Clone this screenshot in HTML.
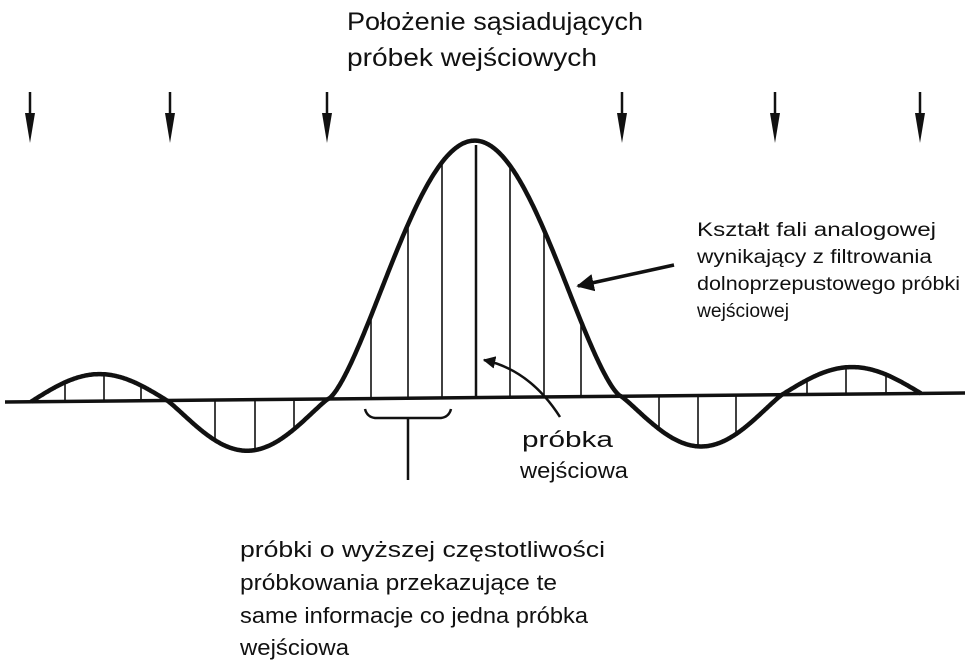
<!DOCTYPE html>
<html><head><meta charset="utf-8"><style>
html,body{margin:0;padding:0;background:#fff;width:970px;height:667px;overflow:hidden}
svg{display:block}
text{font-family:"Liberation Sans","DejaVu Sans",sans-serif;fill:#111}
</style></head><body>
<svg id="s" width="970" height="667" viewBox="0 0 970 667" xmlns="http://www.w3.org/2000/svg">
<defs>
<marker id="ah" viewBox="0 0 10 10" refX="9" refY="5" markerWidth="5" markerHeight="5" orient="auto"><path d="M0,0 L10,5 L0,10 z" fill="#111"/></marker>
</defs>
<text x="347" y="30" font-size="25" textLength="296" lengthAdjust="spacingAndGlyphs">Położenie sąsiadujących</text>
<text x="347" y="66" font-size="25" textLength="250" lengthAdjust="spacingAndGlyphs">próbek wejściowych</text>
<g id="arrows" stroke="#111" stroke-width="2.5" fill="#111"></g>
<line x1="5" y1="402" x2="965" y2="393" stroke="#111" stroke-width="3.5"/>
<g id="samples" stroke="#111" stroke-width="1.6"></g>
<path id="curve" fill="none" stroke="#111" stroke-width="4.5" stroke-linejoin="round"/>
<line x1="476" y1="145" x2="476" y2="398" stroke="#111" stroke-width="2.5"/>
<line x1="674" y1="265" x2="578" y2="286" stroke="#111" stroke-width="3.5" marker-end="url(#ah)"/>
<path d="M560,417 Q530,370 484,360" fill="none" stroke="#111" stroke-width="2.5" marker-end="url(#ah)"/>
<path d="M365,409 Q367,417 375,418 L441,418 Q449,417 451,409" fill="none" stroke="#111" stroke-width="2.5"/>
<line x1="408" y1="418" x2="408" y2="480" stroke="#111" stroke-width="2.5"/>
<text x="697" y="236" font-size="19" textLength="239" lengthAdjust="spacingAndGlyphs">Kształt fali analogowej</text>
<text x="697" y="263" font-size="19" textLength="235" lengthAdjust="spacingAndGlyphs">wynikający z filtrowania</text>
<text x="697" y="290" font-size="19" textLength="263" lengthAdjust="spacingAndGlyphs">dolnoprzepustowego próbki</text>
<text x="697" y="317" font-size="19" textLength="92" lengthAdjust="spacingAndGlyphs">wejściowej</text>
<text x="522" y="447" font-size="22" textLength="91" lengthAdjust="spacingAndGlyphs">próbka</text>
<text x="520" y="478" font-size="22" textLength="108" lengthAdjust="spacingAndGlyphs">wejściowa</text>
<text x="240" y="557" font-size="22" textLength="365" lengthAdjust="spacingAndGlyphs">próbki o wyższej częstotliwości</text>
<text x="240" y="590" font-size="22" textLength="317" lengthAdjust="spacingAndGlyphs">próbkowania przekazujące te</text>
<text x="240" y="623" font-size="22" textLength="348" lengthAdjust="spacingAndGlyphs">same informacje co jedna próbka</text>
<text x="240" y="655" font-size="22" textLength="109" lengthAdjust="spacingAndGlyphs">wejściowa</text>
</svg>
<script>
var NS="http://www.w3.org/2000/svg";
function base(x){return 402-9*(x-5)/960;}
var lobes=[[31,167,27,1],[167,328,-51,1.1],[328,621,257,1.4],[621,782,-51,1.1],[782,921,27,1]];
function f(x){for(var i=0;i<lobes.length;i++){var l=lobes[i];if(x>=l[0]&&x<=l[1]){var t=(x-l[0])/(l[1]-l[0]);return base(x)-l[2]*Math.pow(Math.sin(Math.PI*t),l[3]);}}return base(x);}
var d="";for(var x=31;x<=921;x+=1){d+=(x==31?"M":"L")+x+","+f(x).toFixed(1)+" ";}
document.getElementById("curve").setAttribute("d",d);
var xs=[65,104,141,215,255,294,371,408,442,510,544,581,659,698,736,807,846,886];
var g=document.getElementById("samples");
xs.forEach(function(x){var l=document.createElementNS(NS,"line");l.setAttribute("x1",x);l.setAttribute("x2",x);l.setAttribute("y1",base(x));l.setAttribute("y2",f(x));g.appendChild(l);});
var ax=[30,170,327,622,775,920];var ag=document.getElementById("arrows");
ax.forEach(function(x){var l=document.createElementNS(NS,"line");l.setAttribute("x1",x);l.setAttribute("x2",x);l.setAttribute("y1",92);l.setAttribute("y2",118);ag.appendChild(l);
var p=document.createElementNS(NS,"path");p.setAttribute("d","M"+(x-5)+",113 L"+(x+5)+",113 L"+x+",143 z");p.setAttribute("stroke","none");ag.appendChild(p);});
</script>
</body></html>
